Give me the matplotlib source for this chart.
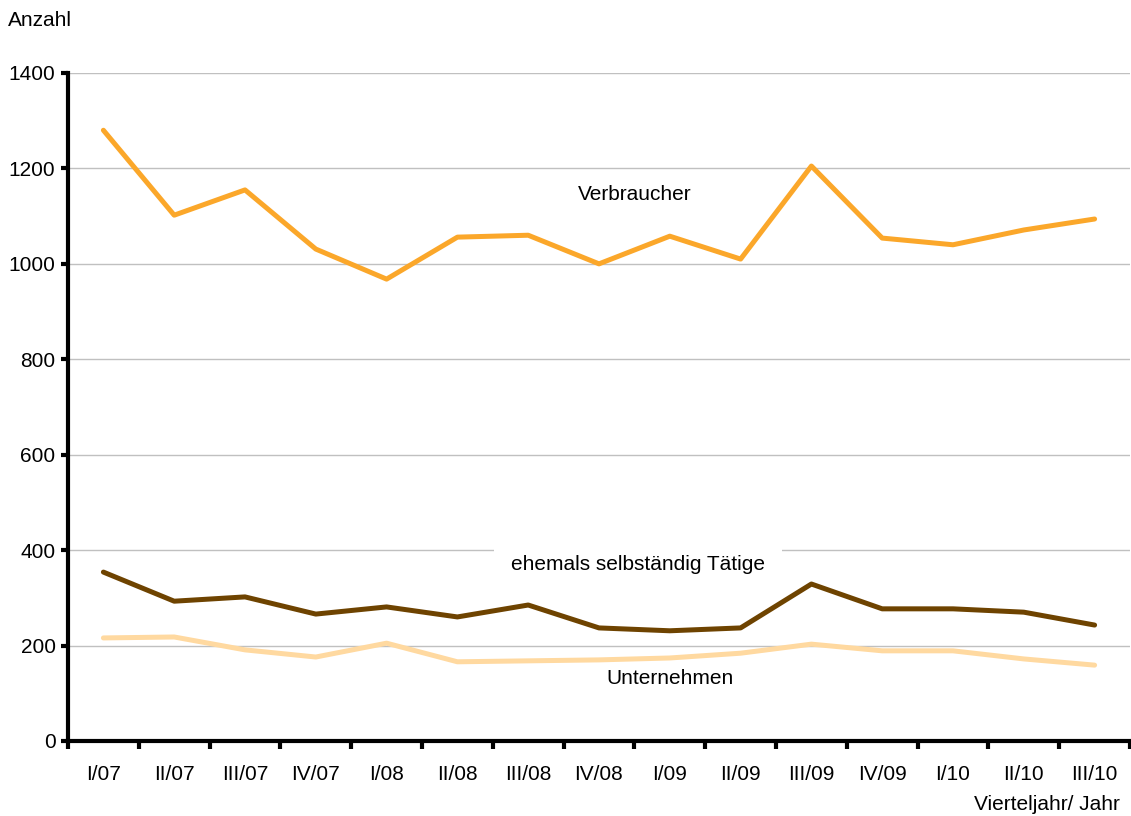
import numpy as np
import matplotlib.pyplot as plt

plt.rcParams['font.family'] = ['Liberation Sans', 'DejaVu Sans']

quartale = ['I/07', 'II/07', 'III/07', 'IV/07', 'I/08', 'II/08', 'III/08', 'IV/08',
            'I/09', 'II/09', 'III/09', 'IV/09', 'I/10', 'II/10', 'III/10']
verbraucher = [1280, 1102, 1155, 1031, 968, 1056, 1060, 1000, 1058, 1010, 1205, 1054, 1040, 1071, 1094]
ehemals = [354, 293, 302, 266, 281, 260, 285, 237, 231, 237, 329, 277, 277, 270, 243]
unternehmen = [216, 218, 191, 176, 205, 166, 168, 170, 174, 184, 203, 189, 189, 172, 159]

fig = plt.figure(figsize=(11.31, 8.16), dpi=100)
ax = fig.add_axes([68 / 1131, 75 / 816, 1062 / 1131, 668 / 816])

x = np.arange(len(quartale))
ax.plot(x, verbraucher, color='#FBA72A', lw=3.6, zorder=3, solid_capstyle='round')
ax.plot(x, ehemals, color='#6E4300', lw=3.6, zorder=3, solid_capstyle='round')
ax.plot(x, unternehmen, color='#FFD9A0', lw=3.6, zorder=3, solid_capstyle='round')

ax.set_xlim(-0.5, len(quartale) - 0.5)
ax.set_ylim(0, 1400)
ax.set_yticks(np.arange(0, 1401, 200))
ax.yaxis.grid(True, color='#C0C0C0', lw=1)
ax.set_axisbelow(True)

ax.set_xticks(x)
ax.set_xticklabels(quartale, fontsize=15)
ax.set_xticks(np.arange(-0.5, len(quartale)), minor=True)
ax.tick_params(axis='x', which='major', length=0, pad=17)
ax.tick_params(axis='x', which='minor', length=6, width=3, direction='out')
ax.tick_params(axis='y', length=5, width=3, direction='out', labelsize=15, pad=4)

for s in ['top', 'right']:
    ax.spines[s].set_visible(False)
for s in ['left', 'bottom']:
    ax.spines[s].set_linewidth(3)

ax.text(7.5, 1146, 'Verbraucher', fontsize=15, ha='center', va='center', zorder=4)
ax.text(7.55, 369, 'ehemals selbständig Tätige', fontsize=15, ha='center', va='center', zorder=2,
        bbox=dict(facecolor='white', edgecolor='none', pad=12))
ax.text(8.0, 130, 'Unternehmen', fontsize=15, ha='center', va='center', zorder=4)

fig.text(8 / 1131, 1 - 20 / 816, 'Anzahl', fontsize=15, ha='left', va='center')
fig.text(1120 / 1131, 1 - 805 / 816, 'Vierteljahr/ Jahr', fontsize=15, ha='right', va='center')

fig.savefig('out.png', dpi=100)
